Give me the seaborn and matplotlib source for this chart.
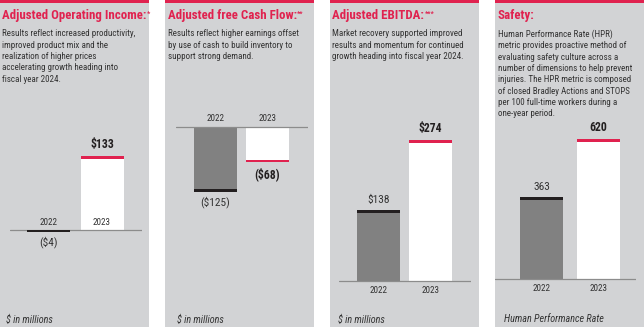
import matplotlib
matplotlib.use("Agg")
import matplotlib.pyplot as plt
import seaborn as sns
import pandas as pd
from matplotlib import font_manager
from matplotlib.patches import Rectangle

# ---------------- data ----------------
years = ["2022", "2023"]
op_income = [-4, 133]
op_income_labels = ["($4)", "$133"]
free_cash = [-125, -68]
free_cash_labels = ["($125)", "($68)"]
ebitda = [138, 274]
ebitda_labels = ["$138", "$274"]
safety = [363, 620]
safety_labels = ["363", "620"]

titles = ["Adjusted Operating Income:", "Adjusted free Cash Flow:",
          "Adjusted EBITDA:", "Safety:"]
title_marks = ["*", "**", "***", ""]
bodies = [
    "Results reflect increased productivity,\nimproved product mix and the\n"
    "realization of higher prices\naccelerating growth heading into\nfiscal year 2024.",
    "Results reflect higher earnings offset\nby use of cash to build inventory to\n"
    "support strong demand.",
    "Market recovery supported improved\nresults and momentum for continued\n"
    "growth heading into fiscal year 2024.",
    "Human Performance Rate (HPR)\nmetric provides proactive method of\n"
    "evaluating safety culture across a\nnumber of dimensions to help prevent\n"
    "injuries. The HPR metric is composed\nof closed Bradley Actions and STOPS\n"
    "per 100 full-time workers during a\none-year period.",
]
footnotes = ["$ in millions", "$ in millions", "$ in millions", "Human Performance Rate"]

# ---------------- style ----------------
sns.set_theme(style="white")
avail = {f.name for f in font_manager.fontManager.ttflist}
fam = "DejaVu Sans"
for cand in ["Liberation Sans Narrow", "Roboto Condensed", "DejaVu Sans Condensed"]:
    if cand in avail:
        fam = cand
        break
plt.rcParams["font.family"] = [fam, "DejaVu Sans"]

RED = "#e0224f"
BG = "#d2d3d5"
GRAY = "#818181"
DARK = "#231f20"
TXT = "#333333"

W, H = 644, 327
fig = plt.figure(figsize=(W / 100, H / 100), dpi=100)
fig.patch.set_facecolor("white")


def rect(x0, y0, x1, y1):
    """pixel box (top-left origin) -> figure fraction rect"""
    return [x0 / W, 1 - y1 / H, (x1 - x0) / W, (y1 - y0) / H]


panel_x = [0, 165, 330, 495]
panel_w = 149

# chart geometry per panel (pixels)
charts = [
    dict(vals=op_income, labels=op_income_labels, L=10, R=142, c0=48.5, c1=102,
         base=230, scale=74 / 133, year_pos="inside", foot_x=6),
    dict(vals=free_cash, labels=free_cash_labels, L=176, R=308, c0=215.5, c1=267.5,
         base=127, scale=65 / 125, year_pos="above", foot_x=177),
    dict(vals=ebitda, labels=ebitda_labels, L=339, R=471, c0=378.5, c1=430.5,
         base=281, scale=141 / 274, year_pos="below", foot_x=338),
    dict(vals=safety, labels=safety_labels, L=495, R=636, c0=541.5, c1=598.5,
         base=279, scale=140 / 620, year_pos="below", foot_x=504),
]

for i in range(4):
    px = panel_x[i]
    # background panel
    bg = fig.add_axes(rect(px, 0, px + panel_w, H))
    bg.set_facecolor(BG)
    bg.set_xlim(0, panel_w)
    bg.set_ylim(H, 0)
    bg.set_xticks([])
    bg.set_yticks([])
    for s in bg.spines.values():
        s.set_visible(False)
    bg.add_patch(Rectangle((0, 0), panel_w, 2.7, color=RED, lw=0))
    t = bg.text(2.5, 16, titles[i], color=RED, fontsize=9.3, fontweight="bold",
                va="center", ha="left")
    if title_marks[i]:
        bg.annotate(title_marks[i], xy=(1.0, 0.95), xycoords=t, color=RED,
                    fontsize=5, fontweight="bold", va="top", ha="left")
    bg.text(2.5, 29.5, bodies[i], color=TXT, fontsize=6.45, va="top", ha="left",
            linespacing=1.33)
    c = charts[i]
    bg.text(c["foot_x"] - px, 319.5, footnotes[i], color=TXT, fontsize=7.3,
            style="italic", va="center", ha="left")

    # chart axes
    T, B = 100, 300
    ax = fig.add_axes(rect(c["L"], T, c["R"], B))
    ax.patch.set_alpha(0)
    d = c["c1"] - c["c0"]
    df = pd.DataFrame({"year": years, "value": c["vals"]})
    sns.barplot(data=df, x="year", y="value", hue="year",
                palette=[DARK if i == 0 else GRAY, "white"], legend=False,
                width=43 / d, saturation=1, ax=ax, linewidth=0)
    ax.set_xlim((c["L"] - c["c0"]) / d, (c["R"] - c["c0"]) / d)
    ax.set_ylim(-(B - c["base"]) / c["scale"], (c["base"] - T) / c["scale"])
    ax.axhline(0, color="#8c8c8c", lw=0.9, zorder=1)
    for s in ax.spines.values():
        s.set_visible(False)
    ax.set_xticks([])
    ax.set_yticks([])
    ax.set_xlabel("")
    ax.set_ylabel("")

    cap_h = 2.6 / c["scale"]  # cap line thickness in data units
    for j, p in enumerate(ax.patches[:2]):
        v = c["vals"][j]
        x0 = p.get_x()
        w = p.get_width()
        col = DARK if j == 0 else RED
        y0 = v - cap_h if v > 0 else v
        ax.add_patch(Rectangle((x0, y0), w, cap_h, color=col, lw=0, zorder=4))
        bold = j == 1
        kw = dict(textcoords="offset points", ha="center",
                  fontsize=8.5 if bold else 8.2,
                  fontweight="bold" if bold else "normal",
                  color=DARK if bold else TXT)
        if v >= 0:
            ax.annotate(c["labels"][j], xy=(j, v), xytext=(0, 3.5), va="bottom", **kw)
        else:
            ax.annotate(c["labels"][j], xy=(j, v), xytext=(0, -3.2), va="top", **kw)
        # year labels
        if c["year_pos"] == "inside":
            off = 5.5
        elif c["year_pos"] == "above":
            off = 6
        else:
            off = -7
        ax.annotate(years[j], xy=(j, 0), xytext=(0, off), textcoords="offset points",
                    ha="center", va="center", fontsize=6.6, color=TXT, zorder=5)

fig.savefig("out.png", dpi=100, facecolor="white")
